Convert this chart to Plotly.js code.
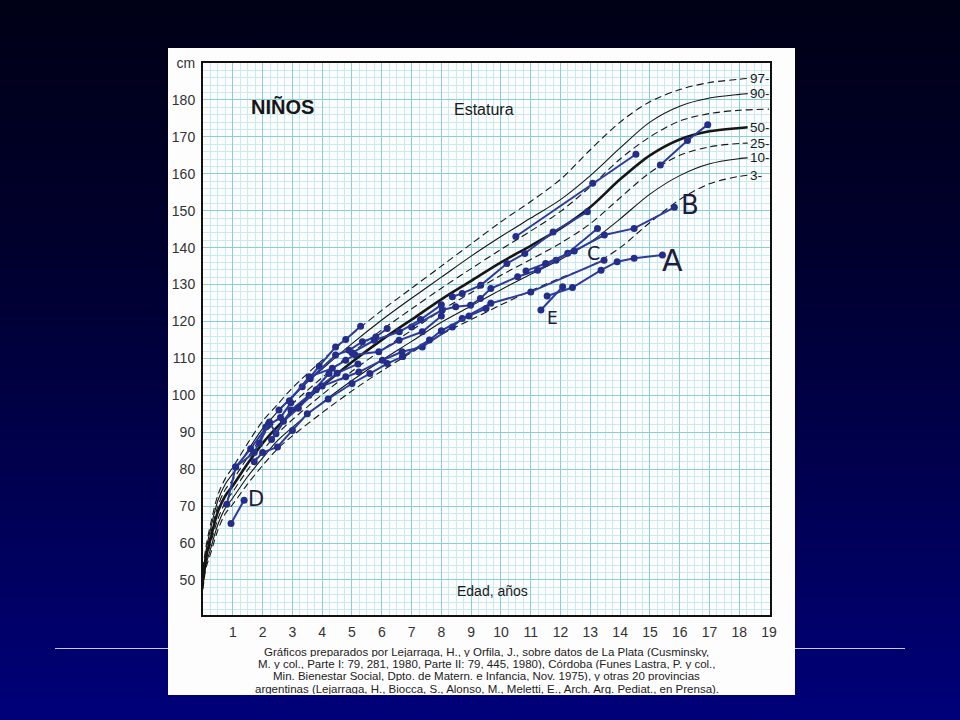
<!DOCTYPE html>
<html>
<head>
<meta charset="utf-8">
<script src="https://cdn.plot.ly/plotly-3.0.1.min.js"></script>
<style>
  html, body { margin: 0; padding: 0; }
  body { width: 960px; height: 720px; position: relative; overflow: hidden;
         background: linear-gradient(to bottom, #000016 0%, #00002e 35%, #000054 70%, #00007a 100%); }
  #rule { position: absolute; left: 55px; top: 648px; width: 850px; height: 1px; background: #c9c9e4; }
  #chart { position: absolute; left: 168px; top: 48px; width: 627px; height: 647px; }
</style>
</head>
<body>
<div id="rule"></div>
<div id="chart"></div>
<script>
// ---- Percentile reference curves (age in years, height in cm) ----
const ages = [0,0.1,0.25,0.5,0.75,1,1.5,2,2.5,3,4,5,6,7,8,9,10,11,12,13,14,15,16,17,18,18.28];
const agesP75 = [0,0.1,0.25,0.5,0.75,1,1.5,2,2.5,3,4,5,6,7,8,9,10,11,12,13,14,15,16,17,18,19];
const p3  = [47.5,53.2,57.0,63.5,68.0,70.5,76.0,81.0,85.5,89.0,95.3,101.2,106.6,111.6,116.5,120.5,124.5,128.3,131.8,135.0,140.0,146.8,153.0,157.3,159.3,159.6];
const p10 = [48.3,54.0,58.3,65.0,69.5,72.2,78.0,83.0,87.7,91.3,98.0,104.0,109.5,114.6,119.8,124.2,128.6,132.8,136.8,141.5,147.8,154.5,159.5,162.7,164.1,164.3];
const p25 = [49.2,55.0,59.7,66.5,71.0,73.9,79.8,85.0,89.6,93.4,100.2,106.5,112.3,117.6,123.0,127.8,132.5,136.8,141.2,146.5,153.5,160.3,165.0,167.3,168.2,168.3];
const p50 = [50.0,56.0,61.0,68.5,72.8,75.5,81.5,87.0,91.5,95.5,102.5,109.0,115.0,120.5,126.0,131.0,136.0,140.5,145.2,151.0,158.5,165.0,169.3,171.5,172.4,172.6];
const p75 = [50.8,57.0,62.3,70.0,74.5,77.1,83.2,89.0,93.5,97.7,104.8,111.5,117.7,123.4,129.0,134.3,139.5,144.5,149.8,156.5,164.0,170.0,174.3,176.3,177.2,177.5];
const p90 = [51.7,57.9,63.7,71.5,76.0,78.8,85.0,91.0,95.5,99.8,107.1,114.0,120.4,126.3,132.0,137.7,143.0,148.0,153.0,159.5,167.0,174.0,178.3,180.5,181.5,181.7];
const p97 = [53.0,59.0,65.0,73.0,77.5,80.5,87.0,93.0,97.5,102.0,109.5,116.5,123.0,129.0,135.0,141.0,147.0,152.5,158.5,166.5,174.0,179.5,182.8,184.7,185.6,185.8];

const pctLabels = ['97','90','50','25','10','3'];
const pctLabelValues = [185.8,181.7,172.6,168.3,164.3,159.6];

// ---- Individual patient measurements [age, height] ----
const trackD   = [[0.94,65.3],[1.38,71.6]];
const track1a  = [[0.8,70.5],[1.1,80.6],[1.6,85.5],[2.2,92.3]];
const track1b  = [[2.55,96.0],[3.33,102.3],[3.9,107.9],[4.45,113.1],[4.79,115.1],[5.29,118.7]];
const track2a  = [[1.09,80.6],[1.72,84.5],[2.11,91.4],[2.6,94.0],[2.95,98.0]];
const track2b  = [[3.6,104.5],[4.45,110.9],[4.9,112.2],[5.35,114.5],[5.8,115.8],[6.18,118.1]];
const track3   = [[1.72,82.0],[2.0,84.5],[2.5,86.0],[3.0,90.5],[3.5,95.0],[4.2,99.0],[5.0,103.2],[5.6,105.9],[6.18,108.6],[6.7,110.5]];
const track4   = [[1.9,87.0],[2.23,92.8],[2.45,89.6],[2.95,96.0],[3.56,100.0],[4.23,105.9]];
const track5   = [[2.3,88.0],[2.7,93.0],[3.2,96.5],[3.8,101.5],[4.5,106.0],[5.2,108.5]];
const track6   = [[2.9,98.5],[3.56,105.0],[4.34,107.3],[4.79,109.5],[5.1,111.0],[5.9,111.8],[6.58,114.9],[7.36,117.2],[8.0,121.5]];
const trackC   = [[4.0,102.5],[4.79,105.0],[5.23,106.3],[6.02,109.5],[6.68,111.8],[7.36,113.1],[8.37,118.5],[8.7,120.8],[9.66,124.9],[11.0,128.0],[13.46,136.6]];
const track8   = [[6.7,110.5],[7.6,115.0],[8.0,117.5],[8.93,121.5],[9.5,123.5]];
const track9   = [[7.0,118.5],[8.03,123.1],[8.48,124.0],[8.98,124.4],[9.31,126.2],[9.66,128.9],[10.56,132.1],[11.23,133.9],[11.85,136.6],[12.24,138.5],[13.24,145.2]];
const track10  = [[8.37,126.7],[8.7,127.6],[9.32,129.8],[10.2,135.7],[10.8,138.4],[11.75,144.2],[12.9,149.7]];
const track11  = [[5.0,111.5],[5.75,114.9],[6.59,117.2],[7.3,120.5],[8.0,124.5]];
const trackTop = [[10.5,143.0],[13.08,157.4],[14.53,165.3]];
const trackLate= [[15.35,162.4],[16.26,169.0],[16.94,173.3]];
const trackB   = [[10.84,133.7],[11.5,135.7],[12.46,139.1],[13.47,143.4],[14.47,145.2],[15.82,150.9]];
const trackA   = [[11.55,126.9],[12.4,129.2],[13.36,133.9],[13.9,136.2],[14.47,137.1],[15.42,138.0]];
const trackE   = [[11.34,123.1],[12.07,129.4]];

const allTracks = [trackD, track1a, track1b, track2a, track2b, track3, track4, track5, track6,
                   trackC, track8, track9, track10, track11, trackTop, trackLate, trackB, trackA, trackE];

// ---- Letters and texts ----
const letterText = ['A','B','C','D','E'];
const letterAge  = [15.77,16.34,13.12,1.78,11.74];
const letterHt   = [136.6,151.5,138.5,71.8,120.9];
const letterSize = [30,26,19,21,17];

const xTicks = [1,2,3,4,5,6,7,8,9,10,11,12,13,14,15,16,17,18,19];
const yTicks = [50,60,70,80,90,100,110,120,130,140,150,160,170,180,190];
const yTickText = ['50','60','70','80','90','100','110','120','130','140','150','160','170','180','cm'];

const captionLines = [
  'Gráficos preparados por Lejarraga, H., y Orfila, J., sobre datos de La Plata (Cusminsky,',
  'M. y col., Parte I: 79, 281, 1980, Parte II: 79, 445, 1980), Córdoba (Funes Lastra, P. y col.,',
  'Min. Bienestar Social, Dpto. de Matern. e Infancia, Nov. 1975), y otras 20 provincias',
  'argentinas (Lejarraga, H., Biocca, S., Alonso, M., Meletti, E., Arch. Arg. Pediat., en Prensa).'
];

// ---- Build traces ----
const traces = [];
function curve(x, y, width, dash) {
  return { x: x, y: y, type: 'scatter', mode: 'lines', hoverinfo: 'skip', showlegend: false,
           line: { color: '#161616', width: width, dash: dash, shape: 'spline', smoothing: 0.9 } };
}
traces.push(curve(ages, p97, 1.1, '7px,4px'));
traces.push(curve(ages, p90, 1.1, 'solid'));
traces.push(curve(agesP75, p75, 1.1, '7px,4px'));
traces.push(curve(ages, p50, 2.6, 'solid'));
traces.push(curve(ages, p25, 1.1, '7px,4px'));
traces.push(curve(ages, p10, 1.1, 'solid'));
traces.push(curve(ages, p3, 1.1, '7px,4px'));

allTracks.forEach(function (t) {
  traces.push({
    x: t.map(function (p) { return p[0]; }),
    y: t.map(function (p) { return p[1]; }),
    type: 'scatter', mode: 'lines+markers', showlegend: false, hoverinfo: 'skip',
    line: { color: '#2d3c9c', width: 2 },
    marker: { color: '#242e88', size: 7 }
  });
});

const font = 'Liberation Sans, Arial, Helvetica, sans-serif';
const annotations = [];
pctLabels.forEach(function (lab, i) {
  annotations.push({ x: 18.3, y: pctLabelValues[i], xref: 'x', yref: 'y', text: lab + '-',
    showarrow: false, xanchor: 'left', yanchor: 'middle', font: { family: font, size: 13.5, color: '#1a1a1a' } });
});
letterText.forEach(function (lab, i) {
  annotations.push({ x: letterAge[i], y: letterHt[i], xref: 'x', yref: 'y', text: lab, showarrow: false,
    xanchor: 'center', yanchor: 'middle',
    font: { family: 'DejaVu Sans, sans-serif', size: letterSize[i], color: '#1d1d3d' } });
});
annotations.push({ x: 2.68, y: 178.1, xref: 'x', yref: 'y', text: '<b>NIÑOS</b>', showarrow: false,
  font: { family: font, size: 20, color: '#161616' } });
annotations.push({ x: 9.43, y: 177.3, xref: 'x', yref: 'y', text: 'Estatura', showarrow: false,
  font: { family: font, size: 16, color: '#1a1a1a' } });
annotations.push({ x: 9.7, y: 46.9, xref: 'x', yref: 'y', text: 'Edad, años', showarrow: false,
  font: { family: font, size: 14, color: '#1a1a1a' } });
captionLines.forEach(function (line, i) {
  annotations.push({ x: 0.5, y: 0, xref: 'paper', yref: 'paper', yshift: -(36 + 12.4 * i),
    text: line, showarrow: false, xanchor: 'center', yanchor: 'middle', height: 11, valign: 'middle',
    font: { family: 'Liberation Sans Narrow, Liberation Sans, Arial, sans-serif', size: 11.5, color: '#222' } });
});

const layout = {
  width: 627, height: 647,
  margin: { l: 35, r: 25, t: 15, b: 80 },
  paper_bgcolor: '#fdfdfd', plot_bgcolor: '#fdfdfd',
  showlegend: false,
  xaxis: {
    range: [0, 19.03], tickvals: xTicks, ticktext: xTicks.map(String),
    showgrid: true, gridcolor: '#86cfdb', gridwidth: 1,
    minor: { dtick: 0.25, tick0: 0, showgrid: true, gridcolor: '#c8ebf1', gridwidth: 1 },
    showline: true, linecolor: '#111', linewidth: 2, mirror: true, zeroline: false,
    ticks: '', ticklabelstandoff: 3,
    tickfont: { family: font, size: 14, color: '#333' }
  },
  yaxis: {
    range: [40.5, 190], tickvals: yTicks, ticktext: yTickText,
    showgrid: true, gridcolor: '#86cfdb', gridwidth: 1,
    minor: { dtick: 2, tick0: 0, showgrid: true, gridcolor: '#c8ebf1', gridwidth: 1 },
    showline: true, linecolor: '#111', linewidth: 2, mirror: true, zeroline: false,
    ticks: '', ticklabelstandoff: 3,
    tickfont: { family: font, size: 14, color: '#333' }
  },
  annotations: annotations
};

Plotly.newPlot('chart', traces, layout, { staticPlot: true, displayModeBar: false });
</script>
</body>
</html>
